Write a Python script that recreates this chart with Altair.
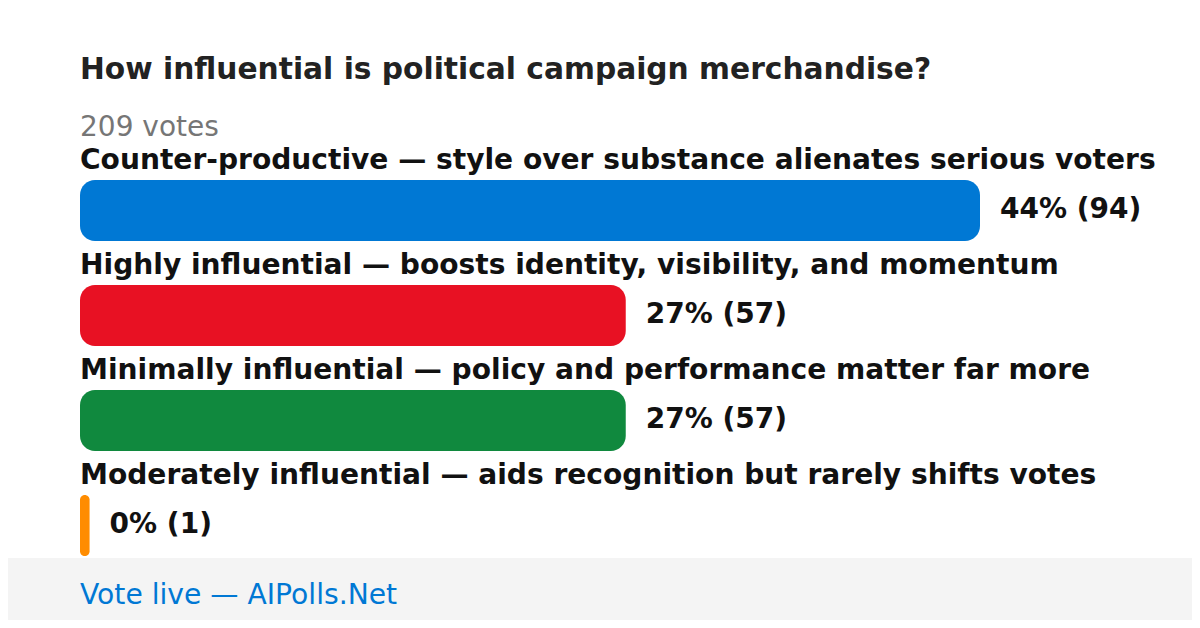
import altair as alt
import pandas as pd

title_text = "How influential is political campaign merchandise?"
total_text = "209 votes"
footer_text = "Vote live — AIPolls.Net"

labels = [
    "Counter-productive — style over substance alienates serious voters",
    "Highly influential — boosts identity, visibility, and momentum",
    "Minimally influential — policy and performance matter far more",
    "Moderately influential — aids recognition but rarely shifts votes",
]
votes = [94, 57, 57, 1]
percents = [44, 27, 27, 0]
colors = ["#0078d4", "#e81123", "#10893e", "#ff8c00"]

df = pd.DataFrame({
    "row": list(range(len(labels))),
    "label": labels,
    "votes": votes,
    "start": [0] * len(labels),
    "value_text": [f"{p}% ({v})" for p, v in zip(percents, votes)],
    "color": colors,
})

W, H = 1184, 612
FONT = "DejaVu Sans"

xscale = alt.Scale(domain=[0, 94], range=[72, 972], zero=False, nice=False, padding=0)
yscale = alt.Scale(domain=[0, 3], range=[202.5, 517.5], zero=False, nice=False, padding=0)

base = alt.Chart(df)

bars = base.mark_bar(size=61, cornerRadius=15, orient="horizontal").encode(
    x=alt.X("start:Q", scale=xscale, axis=None),
    x2="votes:Q",
    y=alt.Y("row:Q", scale=yscale, axis=None),
    color=alt.Color("color:N", scale=None, legend=None),
)

row_labels = base.mark_text(
    align="left", baseline="alphabetic", dy=-42, font=FONT, fontSize=28.1,
    fontWeight="bold", color="#111111",
).encode(
    x=alt.X("start:Q", scale=xscale, axis=None),
    y=alt.Y("row:Q", scale=yscale, axis=None),
    text="label:N",
)

value_labels = base.mark_text(
    align="left", baseline="alphabetic", dx=20, dy=7.5, font=FONT, fontSize=28,
    fontWeight="bold", color="#111111",
).encode(
    x=alt.X("votes:Q", scale=xscale, axis=None),
    y=alt.Y("row:Q", scale=yscale, axis=None),
    text="value_text:N",
)

footer_bg = alt.Chart(pd.DataFrame({"a": [0]})).mark_rect(color="#f4f4f4").encode(
    x=alt.value(-10), x2=alt.value(W + 10), y=alt.value(550), y2=alt.value(H + 10),
)

title_mark = alt.Chart(pd.DataFrame({"t": [title_text]})).mark_text(
    align="left", baseline="alphabetic", font=FONT, fontSize=29.7,
    fontWeight="bold", color="#222222",
).encode(x=alt.value(72), y=alt.value(71), text="t:N")

total_mark = alt.Chart(pd.DataFrame({"t": [total_text]})).mark_text(
    align="left", baseline="alphabetic", font=FONT, fontSize=28,
    color="#767676",
).encode(x=alt.value(72), y=alt.value(128), text="t:N")

footer_mark = alt.Chart(pd.DataFrame({"t": [footer_text]})).mark_text(
    align="left", baseline="alphabetic", font=FONT, fontSize=28.2,
    color="#0078d4",
).encode(x=alt.value(72), y=alt.value(596), text="t:N")

chart = alt.layer(
    footer_bg, bars, row_labels, value_labels, title_mark, total_mark, footer_mark
).properties(
    width=W, height=H, padding=0, autosize=alt.AutoSizeParams(type="none"),
    background="white",
).configure_view(stroke=None)

chart.save("out.html", embed_options={"renderer": "svg", "actions": False})
